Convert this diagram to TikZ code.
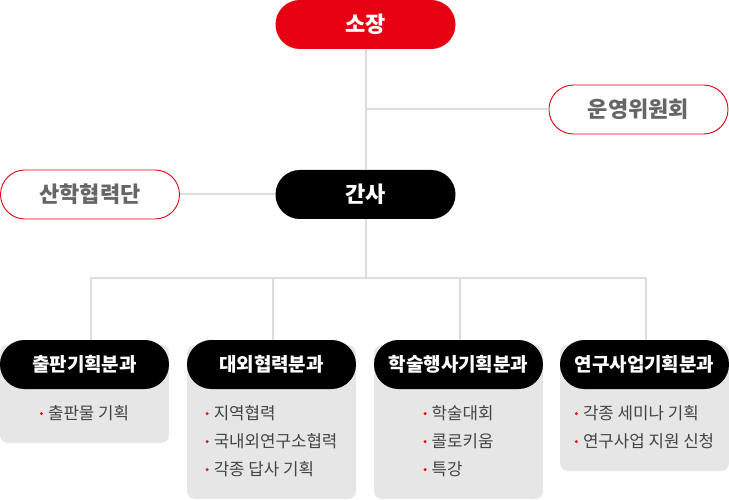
\documentclass[tikz,border=0pt]{standalone}
\usepackage{fontspec}
\setmainfont{Noto Sans CJK KR}
\usetikzlibrary{positioning}
\definecolor{kred}{HTML}{E60012}
\definecolor{kgrey}{HTML}{666666}
\definecolor{ktext}{HTML}{444444}
\definecolor{kline}{HTML}{DDDDDD}
\definecolor{kpanel}{HTML}{E6E6E6}
\newcommand{\reddot}{\raisebox{4.2pt}{\tikz\fill[kred] (0,0) circle (1.6pt);}\hspace{5pt}}

\begin{document}
\begin{tikzpicture}[x=1pt,y=-1pt,node distance=16pt,
    pill/.style={rounded corners=24.4pt,minimum width=180pt,minimum height=49pt,inner sep=0pt,font=\fontsize{22}{22}\selectfont\bfseries},
    main node/.style={pill,fill=black,text=white},
    side node/.style={pill,minimum width=179pt,draw=kred,fill=white,text=kgrey,line width=0.9pt},
    dept node/.style={pill,minimum width=169pt,fill=black,text=white,font=\fontsize{19}{19}\selectfont\bfseries},
    item node/.style={align=left,text=ktext,inner sep=0pt,font=\fontsize{16.8}{28}\selectfont},
    link/.style={draw=kline,line width=2pt}]
    \useasboundingbox (0,0) rectangle (729,500);

    % grey panels under the four groups
    \fill[kpanel,rounded corners=8pt] (0,345) rectangle (169,443);
    \fill[kpanel,rounded corners=8pt] (187,345) rectangle (356,499);
    \fill[kpanel,rounded corners=8pt] (374,345) rectangle (543,499);
    \fill[kpanel,rounded corners=8pt] (560,345) rectangle (729,471);

    \node[main node,fill=kred] (1) at (365.5,24.5) {소장};
    \node[main node] (2) at (365.5,194.5) {간사};
    \node[side node] (a) at (638.5,109.5) {운영위원회};
    \node[side node] (b) at (90,194.5) {산학협력단};

    \node[dept node] (d1) at (84.5,364.5) {출판기획분과};
    \node[dept node] (d2) at (271.5,364.5) {대외협력분과};
    \node[dept node] (d3) at (458.5,364.5) {학술행사기획분과};
    \node[dept node] (d4) at (644.5,364.5) {연구사업기획분과};

    \node[item node] (i1) [below = of d1] {\reddot 출판물 기획};
    \node[item node] (i2) [below = of d2] {\reddot 지역협력\\\reddot 국내외연구소협력\\\reddot 각종 답사 기획};
    \node[item node] (i3) [below = of d3] {\reddot 학술대회\\\reddot 콜로키움\\\reddot 특강};
    \node[item node] (i4) [below = of d4] {\reddot 각종 세미나 기획\\\reddot 연구사업 지원 신청};

    \coordinate (m) at (365.5,109.5);
    \coordinate (bus) at (365.5,278);

    \path[link] (1) -- (2);
    \path[link] (m) -- (a);
    \path[link] (b) -- (2);
    \path[link] (2) -- (bus);
    \path[link] ([xshift=6.5pt]d1.north) -- ([xshift=6.5pt]d1.north |- bus) -| ([xshift=1.5pt]d4.north);
    \path[link] ([xshift=1.5pt]d2.north) -- ([xshift=1.5pt]d2.north |- bus);
    \path[link] ([xshift=1.5pt]d3.north) -- ([xshift=1.5pt]d3.north |- bus);
\end{tikzpicture}
\end{document}
